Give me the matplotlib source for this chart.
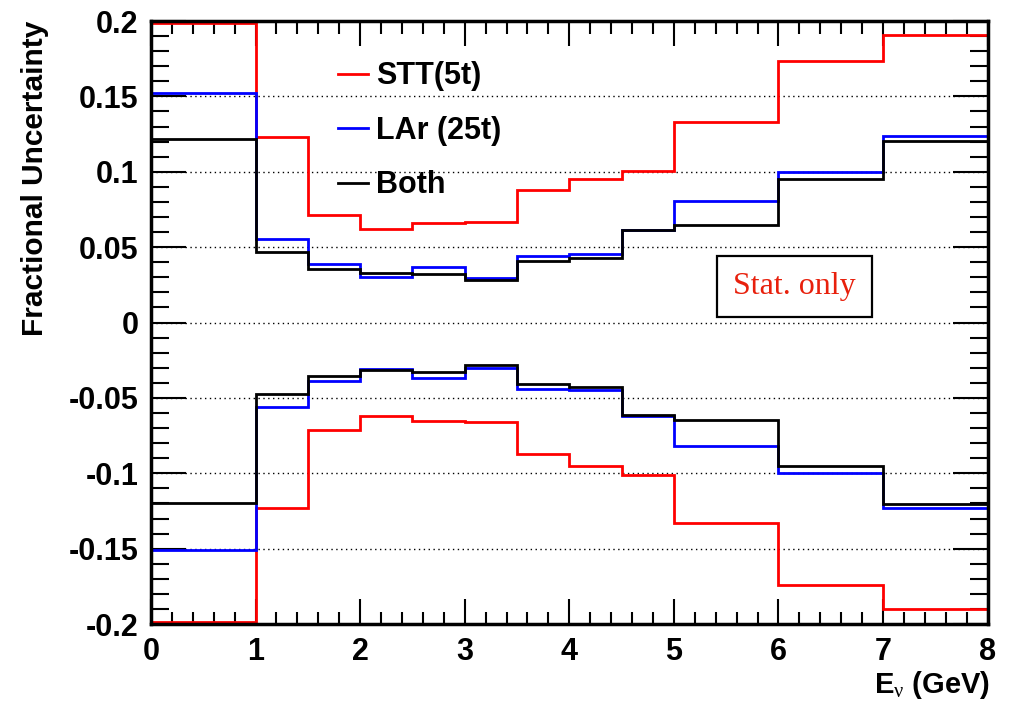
import numpy as np
import matplotlib
matplotlib.use('Agg')
import matplotlib.pyplot as plt
from matplotlib.ticker import MultipleLocator

plt.rcParams['font.family'] = ['Liberation Sans', 'DejaVu Sans']
plt.rcParams['axes.unicode_minus'] = False
plt.rcParams['mathtext.fontset'] = 'custom'
plt.rcParams['mathtext.rm'] = 'Liberation Serif'
plt.rcParams['mathtext.it'] = 'Liberation Serif:italic'
plt.rcParams['mathtext.bf'] = 'Liberation Sans:bold'

# bin edges in neutrino energy (GeV)
edges = [0, 1, 1.5, 2, 2.5, 3, 3.5, 4, 4.5, 5, 6, 7, 8]

# fractional uncertainty per bin, upper and lower bands
stt_up = [0.1985, 0.123, 0.0716, 0.0623, 0.066, 0.067, 0.088, 0.095, 0.1008, 0.133, 0.1737, 0.1905]
stt_dn = [-0.1985, -0.123, -0.071, -0.0617, -0.065, -0.066, -0.087, -0.095, -0.101, -0.133, -0.174, -0.19]
lar_up = [0.152, 0.0556, 0.0386, 0.0304, 0.0368, 0.0298, 0.0442, 0.0452, 0.0617, 0.0806, 0.0998, 0.1235]
lar_dn = [-0.151, -0.056, -0.039, -0.0305, -0.037, -0.030, -0.0438, -0.045, -0.0617, -0.0816, -0.100, -0.123]
both_up = [0.1215, 0.047, 0.0357, 0.0326, 0.0322, 0.0282, 0.0408, 0.0426, 0.0616, 0.065, 0.0954, 0.1204]
both_dn = [-0.120, -0.0473, -0.0352, -0.0318, -0.0325, -0.0283, -0.0407, -0.0427, -0.0613, -0.0644, -0.0955, -0.1205]

series = [
    ('STT(5t)', stt_up, stt_dn, '#ff0000'),
    ('LAr (25t)', lar_up, lar_dn, '#0000ff'),
    ('Both', both_up, both_dn, '#000000'),
]

xticks = [0, 1, 2, 3, 4, 5, 6, 7, 8]
yticks = [-0.2, -0.15, -0.1, -0.05, 0, 0.05, 0.1, 0.15, 0.2]
yticklabels = ['-0.2', '-0.15', '-0.1', '-0.05', '0', '0.05', '0.1', '0.15', '0.2']

fig = plt.figure(figsize=(10.13, 7.04), dpi=100)
ax = fig.add_axes([0.149, 0.1136, 0.826, 0.8565])

for label, up, dn, color in series:
    ax.stairs(up, edges, baseline=0, color=color, lw=2.0, label=label, zorder=2)
    ax.stairs(dn, edges, baseline=0, color=color, lw=2.0, zorder=2)

ax.set_xlim(0, 8)
ax.set_ylim(-0.2, 0.2)

# dotted horizontal grid only
for y in yticks[1:-1]:
    ax.axhline(y, color='black', ls=(0, (1, 2.5)), lw=1.0, zorder=0.5)

ax.set_xticks(xticks)
ax.set_yticks(yticks)
ax.set_yticklabels(yticklabels)
ax.xaxis.set_minor_locator(MultipleLocator(0.2))
ax.yaxis.set_minor_locator(MultipleLocator(0.01))
ax.tick_params(which='both', direction='in', top=True, right=True, width=1.5)
ax.tick_params(axis='x', which='major', length=18, labelsize=22, pad=9)
ax.tick_params(axis='x', which='minor', length=9)
ax.tick_params(axis='y', which='major', length=25, labelsize=22, pad=9)
ax.tick_params(axis='y', which='minor', length=13)
for lab in ax.get_xticklabels() + ax.get_yticklabels():
    lab.set_fontweight('bold')
for sp in ax.spines.values():
    sp.set_linewidth(2.5)
# ticks under the histogram lines, frame on top
ax.xaxis.set_zorder(1)
ax.yaxis.set_zorder(1)

ax.set_xlabel(r'$\mathbf{E}_{\mathrm{\nu}}$ (GeV)', fontsize=21, fontweight='bold', ha='right', va='top')
ax.xaxis.set_label_coords(1.003, -0.074)
ax.set_ylabel('Fractional Uncertainty', fontsize=21.5, fontweight='bold', ha='right')
ax.yaxis.set_label_coords(-0.122, 1.0)

leg = ax.legend(loc='upper left', bbox_to_anchor=(0.2234, 0.933), frameon=False,
                prop={'size': 22, 'weight': 'bold'}, handlelength=1.0,
                handletextpad=0.25, labelspacing=0.8, borderpad=0, borderaxespad=0)

ax.text(0.769, 0.559, 'Stat. only', transform=ax.transAxes, ha='center', va='center',
        color='#e8200c', fontsize=23, family='Liberation Serif',
        bbox=dict(boxstyle='square,pad=0.5', fc='white', ec='black', lw=1.6))

fig.savefig('out.png', dpi=100)
